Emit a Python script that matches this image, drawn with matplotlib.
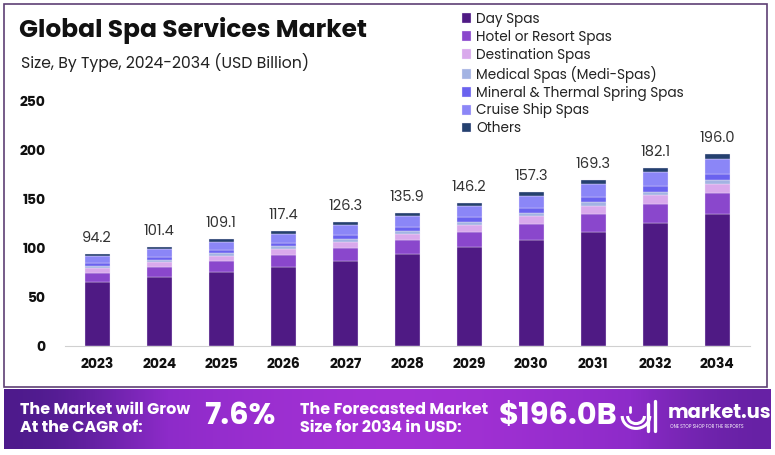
import numpy as np
import matplotlib
matplotlib.use("Agg")
import matplotlib.pyplot as plt
from matplotlib.patches import Rectangle, Arc
from matplotlib.colors import LinearSegmentedColormap

# --- data --- #
years = ["2023", "2024", "2025", "2026", "2027", "2028", "2029", "2030", "2031", "2032", "2034"]
totals = [94.2, 101.4, 109.1, 117.4, 126.3, 135.9, 146.2, 157.3, 169.3, 182.1, 196.0]

day_spas = [65.0, 70.0, 75.3, 81.0, 87.1, 93.8, 100.9, 108.5, 116.8, 125.6, 135.2]
hotel_spas = [9.9, 10.6, 11.5, 12.3, 13.3, 14.3, 15.3, 16.5, 17.8, 19.1, 20.6]
destination_spas = [4.6, 5.0, 5.3, 5.8, 6.2, 6.6, 7.2, 7.7, 8.3, 8.9, 9.6]
medical_spas = [2.0, 2.1, 2.3, 2.5, 2.7, 2.9, 3.1, 3.3, 3.6, 3.8, 4.1]
mineral_spas = [3.0, 3.2, 3.5, 3.8, 4.0, 4.3, 4.7, 5.0, 5.4, 5.8, 6.3]
cruise_spas = [7.4, 8.0, 8.6, 9.2, 10.0, 10.7, 11.5, 12.4, 13.4, 14.4, 15.5]
others = [2.3, 2.5, 2.6, 2.8, 3.0, 3.3, 3.5, 3.9, 4.0, 4.5, 4.7]

series_names = ["Day Spas", "Hotel or Resort Spas", "Destination Spas",
                "Medical Spas (Medi-Spas)", "Mineral & Thermal Spring Spas",
                "Cruise Ship Spas", "Others"]
series = [day_spas, hotel_spas, destination_spas, medical_spas,
          mineral_spas, cruise_spas, others]
colors = ["#4f1a84", "#8a47cc", "#d9a9ec", "#a3b3e3", "#6a62ef", "#8b86f7", "#24406f"]

cagr = "7.6%"
forecast = "$196.0B"

plt.rcParams['font.family'] = ['Poppins', 'Inter', 'DejaVu Sans']

fig = plt.figure(figsize=(7.75, 4.55), dpi=100)
W, H = 775, 455

def fx(px):
    return px / W

def fy(py):
    return 1 - py / H

# frame around the chart area
fig.patches.append(Rectangle((fx(4), fy(387)), fx(763), 383 / H, transform=fig.transFigure,
                             fill=False, edgecolor="#5d3f74", linewidth=1.2))

# --- bars --- #
ax = fig.add_axes([fx(65), fy(346), fx(685), 245 / H])
x = np.arange(len(years))
bottom = np.zeros(len(years))
for name, vals, col in zip(series_names, series, colors):
    ax.bar(x, vals, width=0.4, bottom=bottom, color=col, label=name,
           edgecolor="#f1e8fa", linewidth=0.25)
    bottom += np.array(vals)

for xi, t in zip(x, totals):
    ax.text(xi, t + 8, f"{t:.1f}", ha="center", va="bottom", fontsize=10.5, color="#333333")

ax.set_xlim(-0.52, 10.53)
ax.set_ylim(0, 250)
ax.set_yticks([0, 50, 100, 150, 200, 250])
ax.set_xticks(x)
ax.set_xticklabels(years, fontweight="bold", fontsize=10, color="#111111")
ax.tick_params(axis="y", length=0, pad=14, labelsize=10, labelcolor="#111111")
ax.tick_params(axis="x", length=0, pad=9)
for lab in ax.get_yticklabels():
    lab.set_fontweight("bold")
for s in ["left", "right", "top"]:
    ax.spines[s].set_visible(False)
ax.spines["bottom"].set_color("#d0d0d0")
ax.patch.set_alpha(0)

# --- titles --- #
fig.text(fx(19), fy(31), "Global Spa Services Market", fontsize=17.9, fontweight="bold",
         color="#111111", va="center")
fig.text(fx(21), fy(62), "Size, By Type, 2024-2034 (USD Billion)", fontsize=11.3,
         color="#222222", va="center")

# --- legend --- #
handles, labels = ax.get_legend_handles_labels()
fig.legend(handles, labels, loc="upper left", bbox_to_anchor=(fx(452), fy(2)),
           frameon=False, fontsize=9.8, handlelength=0.7, handleheight=0.7,
           handletextpad=0.4, labelspacing=0.22, labelcolor="#222222",
           borderaxespad=0.3)

# --- bottom banner --- #
bax = fig.add_axes([fx(4), fy(449), fx(767), 60 / H])
grad = np.array([[0.0, 0.55, 0.8, 1.0, 0.85, 0.6, 0.2]])
cmap = LinearSegmentedColormap.from_list("band", ["#4b1a8a", "#8d2bc9", "#a632d6"])
bax.imshow(grad, aspect="auto", cmap=cmap, interpolation="bicubic", extent=(0, 1, 0, 1))
bax.set_xlim(0, 1)
bax.set_ylim(0, 1)
bax.axis("off")

# logo mark drawn as simple shapes
bax_w = 767
def bx(px):
    return (px - 4) / bax_w
for r in [0.018, 0.011]:
    bax.add_patch(Arc((bx(636), 0.55), r * 2, r * 2 * 767 / 60 * 0.9, theta1=180, theta2=360,
                      color="white", linewidth=2.2))
bax.plot([bx(648), bx(648)], [0.3, 0.75], color="white", linewidth=2.4, solid_capstyle="round")
bax.plot([bx(655), bx(655)], [0.3, 0.8], color="white", linewidth=2.4, solid_capstyle="round")
bax.plot([bx(630), bx(630)], [0.62, 0.7], color="white", linewidth=2.0, solid_capstyle="round")

fig.text(fx(20), fy(419), "The Market will Grow\nAt the CAGR of:", fontsize=11.5,
         fontweight="bold", color="white", va="center", linespacing=1.15)
fig.text(fx(204), fy(417), cagr, fontsize=22, fontweight="bold", color="white", va="center")
fig.text(fx(300), fy(419), "The Forecasted Market\nSize for 2034 in USD:", fontsize=11.5,
         fontweight="bold", color="white", va="center", linespacing=1.15)
fig.text(fx(499), fy(417), forecast, fontsize=22, fontweight="bold", color="white", va="center")
fig.text(fx(668), fy(414), "market.us", fontsize=14, fontweight="bold", color="white", va="center")
fig.text(fx(670), fy(427), "ONE STOP SHOP FOR THE REPORTS", fontsize=3.2, color="white",
         va="center")

fig.savefig("out.png", dpi=100)
